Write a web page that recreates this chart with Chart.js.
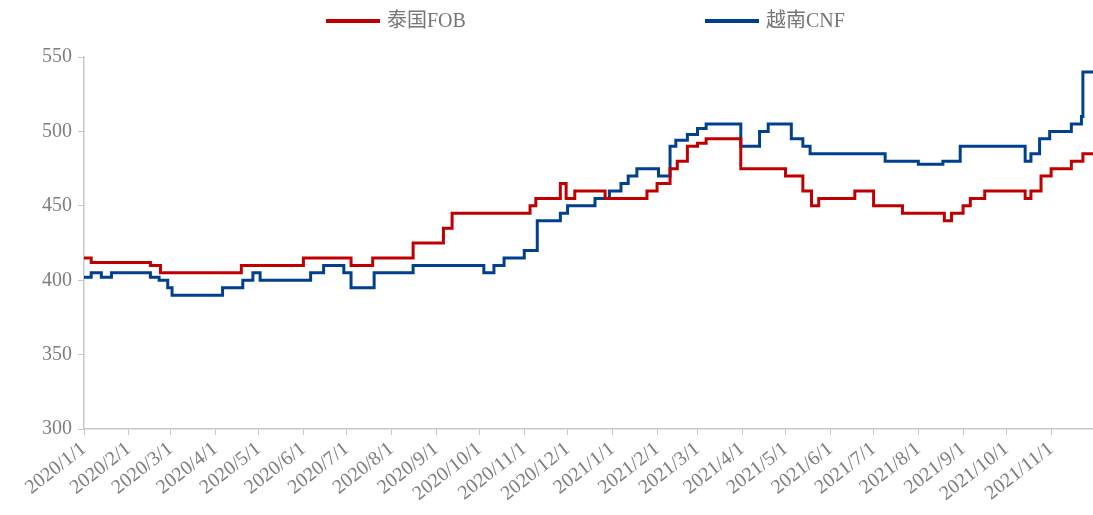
<!DOCTYPE html>
<html>
<head>
<meta charset="utf-8">
<script src="https://cdn.jsdelivr.net/npm/chart.js@4.4.0/dist/chart.umd.min.js"></script>
<style>
  html, body { margin: 0; padding: 0; background: #fff; }
  #wrap { width: 1093px; height: 515px; position: relative; }
</style>
</head>
<body>
<div id="wrap"><canvas id="priceChart"></canvas></div>
<script>
// 价格变动日期及数值（阶梯线）
const fobDates = ['2020/1/1', '2020/1/6', '2020/2/16', '2020/2/23', '2020/4/19', '2020/6/1', '2020/7/4', '2020/7/19',
  '2020/8/16', '2020/9/6', '2020/9/12', '2020/11/5', '2020/11/9', '2020/11/26', '2020/11/30', '2020/12/6',
  '2020/12/27', '2021/1/25', '2021/2/1', '2021/2/10', '2021/2/15', '2021/2/22', '2021/3/1', '2021/3/7',
  '2021/3/31', '2021/5/1', '2021/5/13', '2021/5/19', '2021/5/24', '2021/6/18', '2021/7/1', '2021/7/21',
  '2021/8/19', '2021/8/24', '2021/9/1', '2021/9/6', '2021/9/16', '2021/10/14', '2021/10/18', '2021/10/25',
  '2021/11/1', '2021/11/15', '2021/11/23', '2021/11/30'];
const fobValues = [415, 412, 410, 405, 410, 415, 410, 415,
  425, 435, 445, 450, 455, 465, 455, 460,
  455, 460, 465, 475, 480, 490, 492, 495,
  475, 470, 460, 450, 455, 460, 450, 445,
  440, 445, 450, 455, 460, 455, 460, 470,
  475, 480, 485, 485];

const cnfDates = ['2020/1/1', '2020/1/6', '2020/1/13', '2020/1/20', '2020/2/16', '2020/2/22', '2020/2/28', '2020/3/2',
  '2020/4/6', '2020/4/20', '2020/4/27', '2020/5/2', '2020/6/6', '2020/6/15', '2020/6/29', '2020/7/4',
  '2020/7/20', '2020/8/16', '2020/10/4', '2020/10/11', '2020/10/18', '2020/11/1', '2020/11/10', '2020/11/26',
  '2020/12/1', '2020/12/20', '2020/12/30', '2021/1/7', '2021/1/12', '2021/1/18', '2021/2/2', '2021/2/10',
  '2021/2/14', '2021/2/22', '2021/3/1', '2021/3/7', '2021/3/31', '2021/4/13', '2021/4/19', '2021/5/5',
  '2021/5/13', '2021/5/18', '2021/7/9', '2021/8/1', '2021/8/18', '2021/8/30', '2021/10/14', '2021/10/18',
  '2021/10/24', '2021/10/31', '2021/11/15', '2021/11/22', '2021/11/23', '2021/11/30'];
const cnfValues = [402, 405, 402, 405, 402, 400, 395, 390,
  395, 400, 405, 400, 405, 410, 405, 395,
  405, 410, 405, 410, 415, 420, 440, 445,
  450, 455, 460, 465, 470, 475, 470, 490,
  494, 498, 502, 505, 490, 500, 505, 495,
  490, 485, 480, 478, 480, 490, 480, 485,
  495, 500, 505, 510, 540, 540];

const monthTicks = ['2020/1/1', '2020/2/1', '2020/3/1', '2020/4/1', '2020/5/1', '2020/6/1', '2020/7/1', '2020/8/1',
  '2020/9/1', '2020/10/1', '2020/11/1', '2020/12/1', '2021/1/1', '2021/2/1', '2021/3/1', '2021/4/1',
  '2021/5/1', '2021/6/1', '2021/7/1', '2021/8/1', '2021/9/1', '2021/10/1', '2021/11/1'];
const yTicks = [300, 350, 400, 450, 500, 550];
const seriesNames = ['泰国FOB', '越南CNF'];

function dayIndex(s) {
  const p = s.split('/').map(Number);
  return (Date.UTC(p[0], p[1] - 1, p[2]) - Date.UTC(2020, 0, 1)) / 86400000;
}
function toPoints(dates, values) {
  return dates.map(function (d, i) { return { x: dayIndex(d), y: values[i] }; });
}

const FONT = '"Liberation Serif", "Noto Sans CJK SC", serif';
const GREY = '#7f7f7f';
const AXIS = '#c8c8c8';

// 顶部图例
const topLegend = {
  id: 'topLegend',
  afterDraw(chart) {
    const ctx = chart.ctx;
    const starts = [326, 705];
    const lineW = 54, y = 21;
    ctx.save();
    ctx.font = '20px ' + FONT;
    chart.data.datasets.forEach(function (ds, i) {
      const x = starts[i];
      ctx.strokeStyle = ds.borderColor;
      ctx.lineWidth = 4;
      ctx.beginPath();
      ctx.moveTo(x, y);
      ctx.lineTo(x + lineW, y);
      ctx.stroke();
      ctx.fillStyle = '#767676';
      ctx.textBaseline = 'middle';
      ctx.fillText(ds.label, x + lineW + 7, y + 1);
    });
    ctx.restore();
  }
};

document.addEventListener("DOMContentLoaded", function () {
  const ctx = document.getElementById('priceChart').getContext('2d');
  new Chart(ctx, {
    type: 'line',
    data: {
      datasets: [{
        label: seriesNames[0],
        data: toPoints(fobDates, fobValues),
        borderColor: '#c00000',
        borderWidth: 3,
        stepped: 'before',
        pointRadius: 0,
        fill: false
      }, {
        label: seriesNames[1],
        data: toPoints(cnfDates, cnfValues),
        borderColor: '#00408f',
        borderWidth: 3,
        stepped: 'before',
        pointRadius: 0,
        fill: false
      }]
    },
    options: {
      responsive: true,
      maintainAspectRatio: false,
      animation: false,
      layout: { padding: { top: 57, left: 36, right: 0, bottom: 7 } },
      plugins: {
        legend: { display: false },
        tooltip: { enabled: false }
      },
      scales: {
        x: {
          type: 'linear',
          min: 0,
          max: dayIndex('2021/11/30'),
          afterBuildTicks: function (axis) {
            axis.ticks = monthTicks.map(function (m) { return { value: dayIndex(m), label: m }; });
          },
          ticks: {
            autoSkip: false,
            minRotation: 38,
            maxRotation: 38,
            color: GREY,
            padding: 2,
            font: { family: FONT, size: 20 },
            callback: function (v, i) { return monthTicks[i]; }
          },
          grid: { drawOnChartArea: false, drawTicks: true, tickLength: 6, color: AXIS },
          border: { color: AXIS, width: 1.5 }
        },
        y: {
          min: 300,
          max: 550,
          afterBuildTicks: function (axis) {
            axis.ticks = yTicks.map(function (v) { return { value: v }; });
          },
          ticks: {
            color: GREY,
            padding: 6,
            font: { family: FONT, size: 20 }
          },
          grid: { drawOnChartArea: false, drawTicks: true, tickLength: 6, color: AXIS },
          border: { color: AXIS, width: 1.5 }
        }
      }
    },
    plugins: [topLegend]
  });
});
</script>
</body>
</html>
